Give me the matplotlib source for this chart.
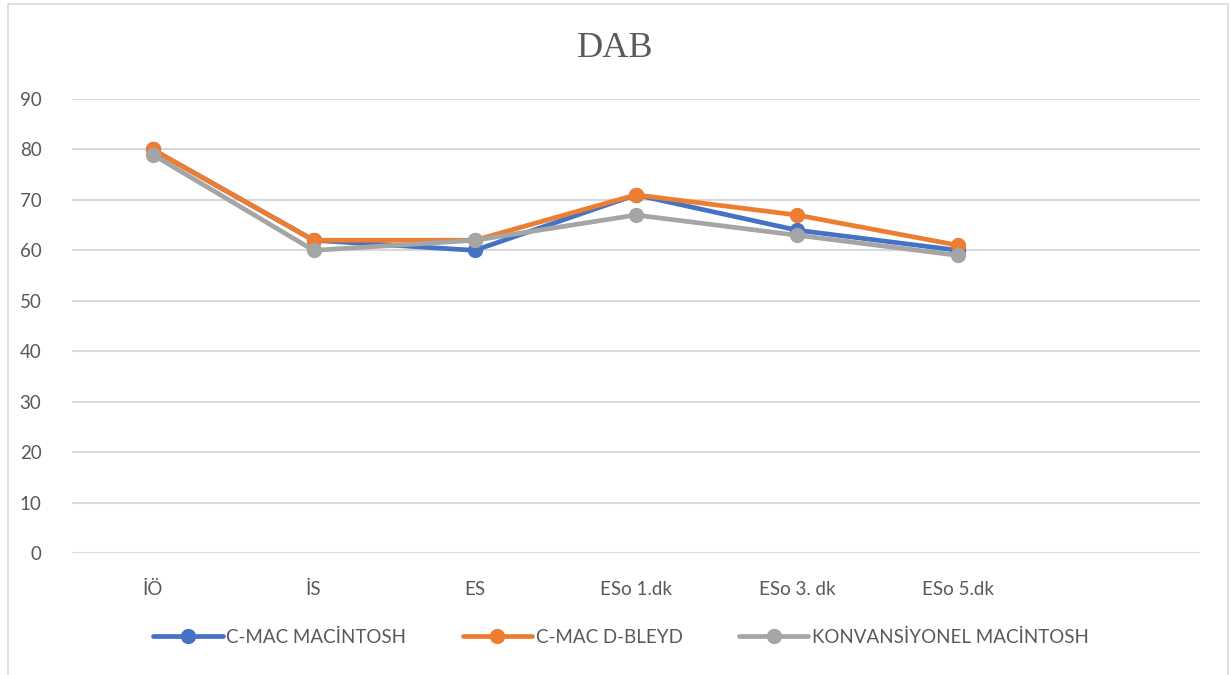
import matplotlib.pyplot as plt
from matplotlib.patches import Rectangle

plt.rcParams['font.family'] = ['Lato', 'DejaVu Sans']

categories = ['İÖ', 'İS', 'ES', 'ESo 1.dk', 'ESo 3. dk', 'ESo 5.dk', '']
c_mac_macintosh = [80, 62, 60, 71, 64, 60]
c_mac_dbleyd = [80, 62, 62, 71, 67, 61]
konvansiyonel = [79, 60, 62, 67, 63, 59]

series = [
    ('C-MAC MACİNTOSH', c_mac_macintosh, '#4472C4'),
    ('C-MAC D-BLEYD', c_mac_dbleyd, '#ED7D31'),
    ('KONVANSİYONEL MACİNTOSH', konvansiyonel, '#A5A5A5'),
]

fig = plt.figure(figsize=(12.3, 6.75), dpi=100)
ax = fig.add_axes([0.0585, 0.1807, 0.917, 0.6726])

for name, vals, color in series:
    ax.plot(range(len(vals)), vals, color=color, linewidth=3.4, marker='o',
            markersize=10, label=name, solid_capstyle='round')

ax.set_xlim(-0.5, len(categories) - 0.5)
ax.set_xticks(range(len(categories)))
ax.set_xticklabels(categories)
ax.set_ylim(0, 90)
ax.set_yticks(range(0, 91, 10))
ax.grid(axis='y', color='#D9D9D9', linewidth=1.5)
ax.set_axisbelow(True)
for s in ax.spines.values():
    s.set_visible(False)
ax.tick_params(axis='both', length=0, colors='#595959', labelsize=13.5)
ax.tick_params(axis='x', pad=20)
ax.tick_params(axis='y', pad=22)

fig.text(0.5, 0.928, 'DAB', ha='center', va='center', fontsize=26,
         family='Liberation Serif', color='#595959')

fig.legend(loc='center', bbox_to_anchor=(0.505, 0.056), ncol=3, frameon=False,
           fontsize=13.5, labelcolor='#595959', handlelength=3.7, handletextpad=0.2,
           columnspacing=3.0)

fig.patches.append(Rectangle((0.0065, -0.01), 0.992, 1.004, transform=fig.transFigure,
                             fill=False, edgecolor='#D9D9D9', linewidth=1.2))

fig.savefig('out.png', dpi=100)
